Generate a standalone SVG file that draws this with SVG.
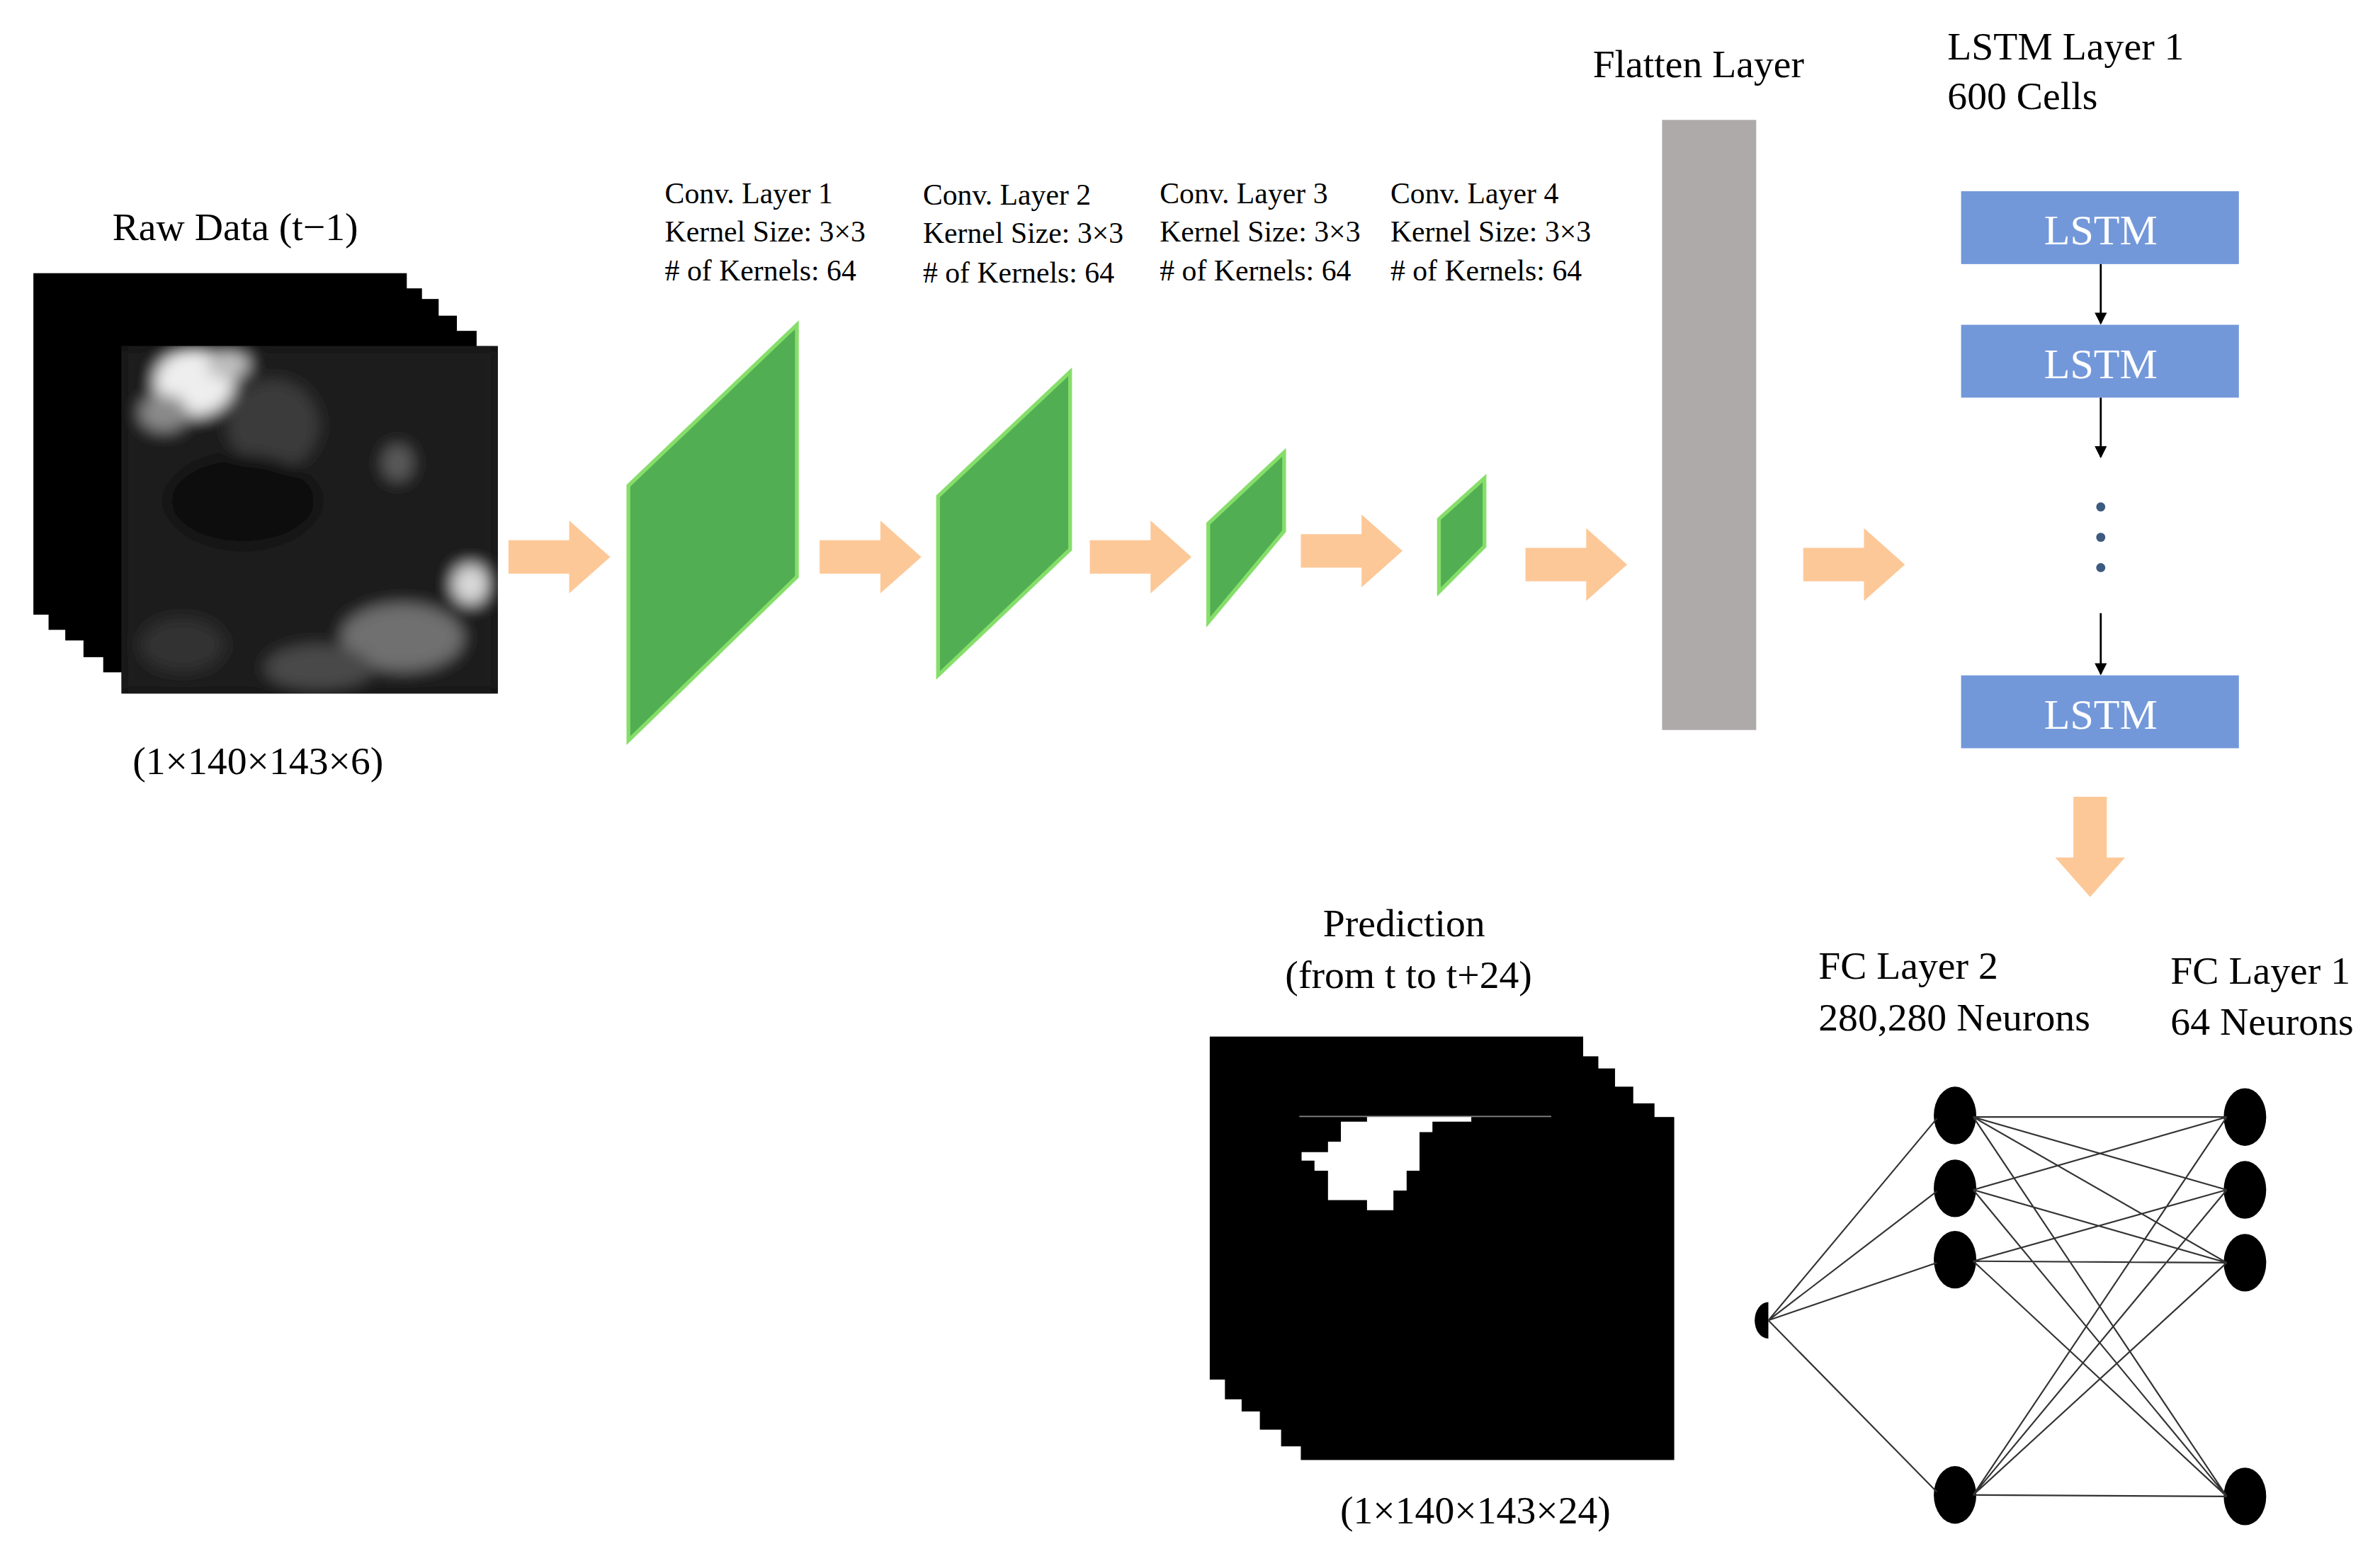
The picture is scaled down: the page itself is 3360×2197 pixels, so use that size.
<svg xmlns="http://www.w3.org/2000/svg" width="3360" height="2197" viewBox="0 0 3360 2197">
<defs>
<style>
text{font-family:'Liberation Serif',Tinos,'Times New Roman',Times,serif;fill:#000}
.t{font-size:26px}.s{font-size:19.5px}.lt{font-size:28px;fill:#fff}
.pa{fill:#FDC898}
.cv{fill:#52AE52;stroke:#86DE6A;stroke-width:2.5}
.lst{fill:#7398DA}
.nn{fill:#000}
.ln{stroke:#333;stroke-width:1;fill:none}
.ar{stroke:#000;stroke-width:1.3;fill:none;marker-end:url(#ah)}
</style>
<marker id="ah" markerWidth="8" markerHeight="8" refX="7" refY="4" orient="auto" markerUnits="userSpaceOnUse"><path d="M0,0 L8,4 L0,8 Z" fill="#000"/></marker>
<clipPath id="rc"><rect x="80" y="228" width="248" height="229"/></clipPath>
<filter id="bl"><feGaussianBlur stdDeviation="5"/></filter>
<path id="harr" d="M0,-11 H40 V-24 L67,0 L40,24 V11 H0 Z"/>
</defs>
<rect width="3360" height="2197" fill="#fff"/>
<g transform="scale(2.1429)" font-family="Liberation Serif, Times New Roman, serif">
<g id="raw">
<text class="t" x="155" y="158" text-anchor="middle">Raw Data (t−1)</text>
<rect x="22" y="180" width="246" height="225"/>
<rect x="32" y="190" width="246" height="225"/>
<rect x="43" y="197" width="246" height="225"/>
<rect x="55" y="208" width="246" height="225"/>
<rect x="68" y="218" width="246" height="225"/>
<rect x="80" y="228" width="248" height="229" fill="#111"/>
<g clip-path="url(#rc)" filter="url(#bl)">
<rect x="80" y="228" width="248" height="229" fill="#1c1c1c"/>
<ellipse cx="128" cy="252" rx="26" ry="22" fill="#eeeeee"/>
<ellipse cx="150" cy="240" rx="14" ry="10" fill="#bdbdbd"/>
<ellipse cx="108" cy="272" rx="16" ry="12" fill="#8a8a8a"/>
<ellipse cx="180" cy="280" rx="30" ry="30" fill="#3a3a3a"/>
<ellipse cx="262" cy="305" rx="10" ry="12" fill="#5a5a5a"/>
<ellipse cx="160" cy="330" rx="50" ry="30" fill="#0c0c0c"/>
<ellipse cx="310" cy="385" rx="12" ry="13" fill="#d8d8d8"/>
<ellipse cx="265" cy="420" rx="40" ry="22" fill="#707070"/>
<ellipse cx="210" cy="440" rx="35" ry="15" fill="#4a4a4a"/>
<ellipse cx="120" cy="425" rx="28" ry="18" fill="#333"/>
</g>
<text class="t" x="170" y="510" text-anchor="middle">(1×140×143×6)</text>
</g>
<g id="conv1"><polygon class="cv" points="414,320 525,214 525,380 414,488"/>
<text class="s" x="438" y="134">Conv. Layer 1</text><text class="s" x="438" y="159">Kernel Size: 3×3</text><text class="s" x="438" y="185"># of Kernels: 64</text></g>
<g id="conv2"><polygon class="cv" points="618,327 705,245 705,362 618,445"/>
<text class="s" x="608" y="135">Conv. Layer 2</text><text class="s" x="608" y="160">Kernel Size: 3×3</text><text class="s" x="608" y="186"># of Kernels: 64</text></g>
<g id="conv3"><polygon class="cv" points="796,345 846,298 846,350 796,410"/>
<text class="s" x="764" y="134">Conv. Layer 3</text><text class="s" x="764" y="159">Kernel Size: 3×3</text><text class="s" x="764" y="185"># of Kernels: 64</text></g>
<g id="conv4"><polygon class="cv" points="948,342 978,315 978,360 948,390"/>
<text class="s" x="916" y="134">Conv. Layer 4</text><text class="s" x="916" y="159">Kernel Size: 3×3</text><text class="s" x="916" y="185"># of Kernels: 64</text></g>
<g id="flatten"><rect x="1095" y="79" width="62" height="402" fill="#AEAAA9"/>
<text class="t" x="1119" y="51" text-anchor="middle">Flatten Layer</text></g>
<g id="lstm">
<text class="t" x="1283" y="39">LSTM Layer 1</text><text class="t" x="1283" y="72">600 Cells</text>
<rect class="lst" x="1292" y="126" width="183" height="48"/><text class="lt" x="1384" y="161" text-anchor="middle">LSTM</text>
<rect class="lst" x="1292" y="214" width="183" height="48"/><text class="lt" x="1384" y="249" text-anchor="middle">LSTM</text>
<rect class="lst" x="1292" y="445" width="183" height="48"/><text class="lt" x="1384" y="480" text-anchor="middle">LSTM</text>
<circle cx="1384" cy="334" r="3" fill="#3d5a80"/><circle cx="1384" cy="354" r="3" fill="#3d5a80"/><circle cx="1384" cy="374" r="3" fill="#3d5a80"/>
</g>
<g id="pred">
<text class="t" x="925" y="617" text-anchor="middle">Prediction</text>
<text class="t" x="928" y="651" text-anchor="middle">(from t to t+24)</text>
<rect x="797" y="683" width="246" height="226"/>
<rect x="807" y="696" width="246" height="226"/>
<rect x="818" y="704" width="246" height="226"/>
<rect x="830" y="716" width="246" height="226"/>
<rect x="844" y="727" width="246" height="226"/>
<rect x="857" y="736" width="246" height="226"/>
<polygon fill="#fff" points="900.6,735.6 969.3,735.6 969.3,739.1 943.7,739.1 943.7,746 935.2,746 935.2,771.4 926.7,771.4 926.7,784.5 918,784.5 918,797.4 900.6,797.4 900.6,790.8 874.9,790.8 874.9,771.4 866,771.4 866,764.7 857.5,764.7 857.5,759.1 874.9,759.1 874.9,752.2 883.4,752.2 883.4,739.1 900.6,739.1"/>
<line x1="856" y1="735.6" x2="1022" y2="735.6" stroke="#888" stroke-width="0.8"/>
<text class="t" x="972" y="1004" text-anchor="middle">(1×140×143×24)</text>
</g>
<g id="fc">
<text class="t" x="1198" y="645">FC Layer 2</text><text class="t" x="1198" y="679">280,280 Neurons</text>
<text class="t" x="1430" y="648">FC Layer 1</text><text class="t" x="1430" y="682">64 Neurons</text>
<path class="nn" d="M1165,858 A9,12 0 0 0 1165,882 Z"/>
<ellipse class="nn" cx="1288" cy="735" rx="14" ry="19"/><ellipse class="nn" cx="1288" cy="783" rx="14" ry="19"/><ellipse class="nn" cx="1288" cy="830" rx="14" ry="19"/><ellipse class="nn" cx="1288" cy="985" rx="14" ry="19"/>
<ellipse class="nn" cx="1479" cy="736" rx="14" ry="19"/><ellipse class="nn" cx="1479" cy="784" rx="14" ry="19"/><ellipse class="nn" cx="1479" cy="832" rx="14" ry="19"/><ellipse class="nn" cx="1479" cy="986" rx="14" ry="19"/>
</g>
<g id="connectors">
<use href="#harr" class="pa" x="335" y="367"/>
<use href="#harr" class="pa" x="540" y="367"/>
<use href="#harr" class="pa" x="718" y="367"/>
<use href="#harr" class="pa" x="857" y="363"/>
<use href="#harr" class="pa" x="1005" y="372"/>
<use href="#harr" class="pa" x="1188" y="372"/>
<path class="pa" d="M1366,525 H1388 V565 H1400 L1377,591 L1354,565 H1366 Z"/>
<line class="ar" x1="1384" y1="174" x2="1384" y2="213"/>
<line class="ar" x1="1384" y1="262" x2="1384" y2="301"/>
<line class="ar" x1="1384" y1="404" x2="1384" y2="444"/>
<path class="ln" d="M1165,870 L1276,737 M1165,870 L1276,785 M1165,870 L1276,832 M1165,870 L1276,983"/>
<path class="ln" d="M1300,736 L1467,736 M1300,736 L1467,784 M1300,736 L1467,832 M1300,736 L1467,986
M1300,784 L1467,736 M1300,784 L1467,832 M1300,784 L1467,986
M1300,831 L1467,784 M1300,831 L1467,832 M1300,831 L1467,986
M1300,985 L1467,736 M1300,985 L1467,784 M1300,985 L1467,832 M1300,985 L1467,986"/>
</g>
</g>
</svg>
